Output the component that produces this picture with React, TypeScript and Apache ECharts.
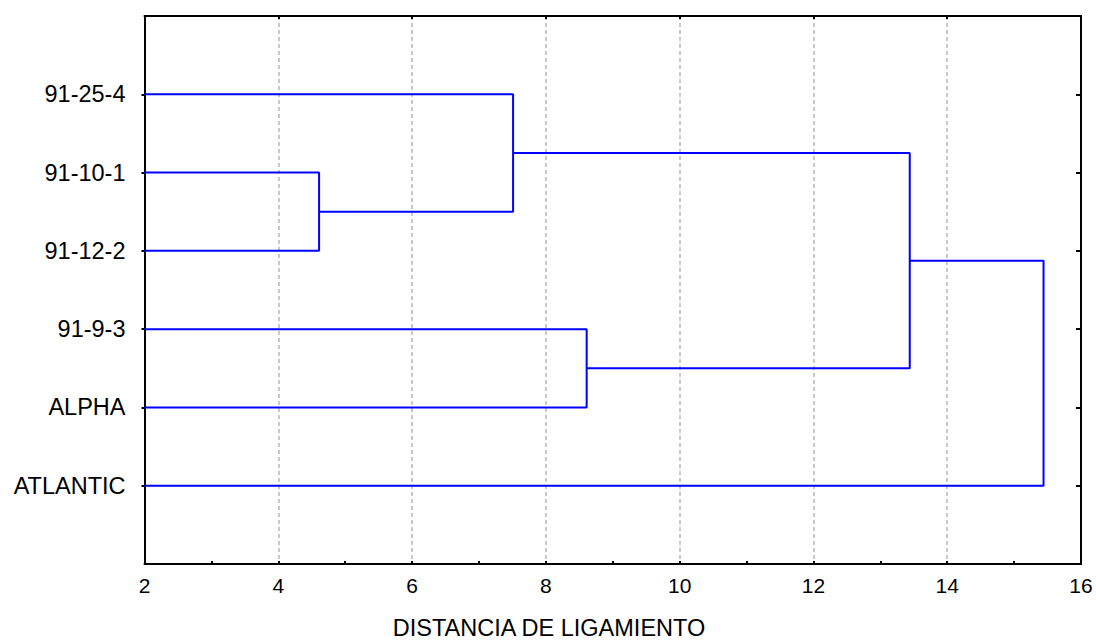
import React, { useEffect, useRef } from "react";
import * as echarts from "echarts";

// Leaf labels, top to bottom (positions 1..6)
const leaves: string[] = ["91-25-4", "91-10-1", "91-12-2", "91-9-3", "ALPHA", "ATLANTIC"];
// Merges: [left child, right child, linkage distance]; children < 6 are leaves, >= 6 are previous merges (6 + index)
const mergeLeft: number[] = [1, 0, 3, 7, 9];
const mergeRight: number[] = [2, 6, 4, 8, 5];
const mergeHeight: number[] = [4.61, 7.51, 8.61, 13.44, 15.44];
const xTicks: number[] = [2, 4, 6, 8, 10, 12, 14, 16];
const xMinorTicks: number[] = [2, 3, 4, 5, 6, 7, 8, 9, 10, 11, 12, 13, 14, 15, 16];
const xName = "DISTANCIA DE LIGAMIENTO";

const FONT = "'Liberation Sans', Arial, sans-serif";

function buildSeries() {
  const xMin = xTicks[0];
  const nodeX: number[] = leaves.map(() => xMin);
  const nodeY: number[] = leaves.map((_, i) => i + 1);
  const series: any[] = [];
  mergeHeight.forEach((h, k) => {
    const a = mergeLeft[k];
    const b = mergeRight[k];
    const data = [
      [nodeX[a], nodeY[a]],
      [h, nodeY[a]],
      [h, nodeY[b]],
      [nodeX[b], nodeY[b]],
    ];
    nodeX.push(h);
    nodeY.push((nodeY[a] + nodeY[b]) / 2);
    series.push({
      type: "line",
      data,
      showSymbol: false,
      symbol: "none",
      lineStyle: { color: "#0000ff", width: 2 },
      silent: true,
      xAxisIndex: 0,
      yAxisIndex: 0,
    });
  });
  return series;
}

export default function App() {
  const ref = useRef<HTMLDivElement>(null);
  useEffect(() => {
    if (!ref.current) return;
    const chart = echarts.init(ref.current, undefined, { renderer: "svg" });
    const leafPos = leaves.map((_, i) => i + 1);
    const axisLine = { show: true, onZero: false, lineStyle: { color: "#000", width: 2 } };
    chart.setOption({
      animation: false,
      backgroundColor: "#fff",
      textStyle: { fontFamily: FONT },
      grid: { left: 144.5, right: 15, top: 16, bottom: 76, containLabel: false },
      xAxis: [
        {
          type: "value",
          position: "bottom",
          min: 2,
          max: 16,
          interval: 2,
          axisLine,
          axisTick: { show: true, inside: true, length: 3, customValues: xMinorTicks, lineStyle: { color: "#000", width: 2 } },
          minorTick: { show: false },
          axisLabel: { color: "#000", fontSize: 21, fontFamily: FONT, margin: 11, customValues: xTicks },
          splitLine: { show: false },
          z: 3,
        },
        {
          type: "value",
          position: "top",
          min: 2,
          max: 16,
          interval: 2,
          axisLine,
          axisTick: { show: true, inside: true, length: 3, customValues: xTicks, lineStyle: { color: "#000", width: 2 } },
          minorTick: { show: false },
          axisLabel: { show: false },
          splitLine: { show: true, lineStyle: { color: "#b8b8b8", width: 1.5, type: [4, 3] } },
        },
      ],
      yAxis: [
        {
          type: "value",
          position: "left",
          inverse: true,
          min: 0,
          max: 7,
          interval: 1,
          axisLine,
          axisTick: { show: true, inside: false, length: 3, customValues: leafPos, lineStyle: { color: "#000", width: 2 } },
          axisLabel: {
            color: "#000",
            fontSize: 23.5,
            fontFamily: FONT,
            margin: 19,
            customValues: leafPos,
            formatter: (v: number) => leaves[Math.round(v) - 1] ?? "",
          },
          splitLine: { show: false },
        },
        {
          type: "value",
          position: "right",
          inverse: true,
          min: 0,
          max: 7,
          interval: 1,
          axisLine,
          axisTick: { show: true, inside: true, length: 5, customValues: leafPos, lineStyle: { color: "#000", width: 2 } },
          axisLabel: { show: false },
          splitLine: { show: false },
        },
      ],
      graphic: [
        {
          type: "text",
          x: 549,
          y: 628,
          style: {
            text: xName,
            fontSize: 23.5,
            fontFamily: FONT,
            fill: "#000",
            align: "center",
            verticalAlign: "middle",
          },
        },
      ],
      series: buildSeries(),
    });
    return () => chart.dispose();
  }, []);
  return (
    <div
      ref={ref}
      style={{ position: "absolute", left: 0, top: 0, width: 1096, height: 640 }}
    />
  );
}
